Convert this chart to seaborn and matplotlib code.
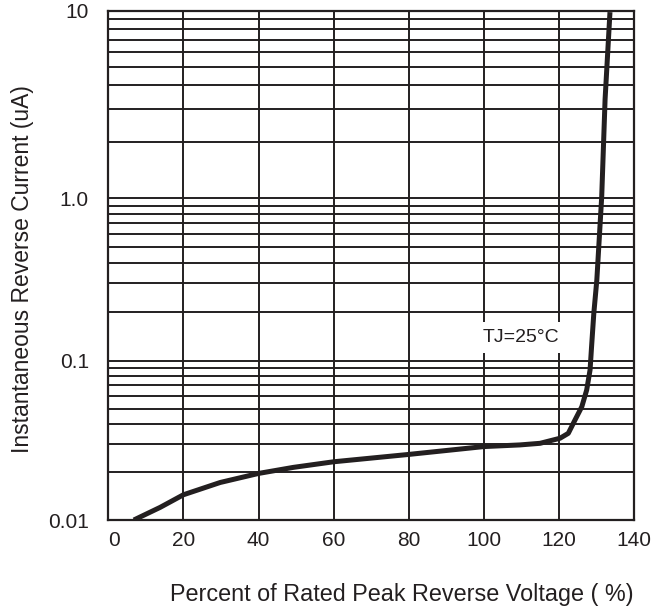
import numpy as np
import pandas as pd
import matplotlib
matplotlib.use("Agg")
import matplotlib.pyplot as plt
import matplotlib.ticker as mticker
import seaborn as sns

# ---- data ----
voltage_pct = [6.8, 13.8, 20, 29.8, 40, 49.3, 60, 80, 100, 109.6, 115, 120.3,
               122.5, 124.3, 126.1, 127.4, 128.3, 128.7, 129.3, 130.1, 131.4,
               132.3, 133.6]
current_ua = [0.0100, 0.0120, 0.0144, 0.0172, 0.0196, 0.0214, 0.0232, 0.0258,
              0.0289, 0.0296, 0.0303, 0.0326, 0.0350, 0.0425, 0.0514, 0.0655,
              0.0875, 0.122, 0.196, 0.314, 1.02, 3.37, 9.8]
x_ticks = [0, 20, 40, 60, 80, 100, 120, 140]
y_ticks = [0.01, 0.1, 1, 10]
y_tick_labels = ["0.01", "0.1", "1.0", "10"]
annotation = "TJ=25°C"

df = pd.DataFrame({"v": voltage_pct, "i": current_ua})

sns.set_style("white")
plt.rcParams["font.family"] = ["Liberation Sans", "DejaVu Sans"]

ink = "#231f20"

fig = plt.figure(figsize=(6.7, 6.08), dpi=100)
ax = fig.add_axes([108.3 / 670, 1 - 520 / 608, (634 - 108.3) / 670, (520 - 10.5) / 608])

# slightly uneven decades, as in the printed chart
_dec = [-2, -1, 0, 1]
_pos = [0.0, 159.3, 321.7, 509.5]


def fwd(y):
    y = np.asarray(y, dtype=float)
    ly = np.log10(np.clip(y, 1e-12, None))
    return np.interp(ly, _dec, _pos)


def inv(v):
    v = np.asarray(v, dtype=float)
    return 10 ** np.interp(v, _pos, _dec)


ax.set_yscale("function", functions=(fwd, inv))

sns.lineplot(data=df, x="v", y="i", ax=ax, color=ink, linewidth=3.6,
             estimator=None, sort=False, solid_capstyle="butt",
             solid_joinstyle="round", zorder=5)

ax.set_xlim(0, 140)
ax.set_ylim(0.01, 10)

ax.yaxis.set_major_locator(mticker.FixedLocator(y_ticks))
ax.yaxis.set_major_formatter(mticker.FixedFormatter(y_tick_labels))
ax.yaxis.set_minor_locator(mticker.LogLocator(base=10, subs=np.arange(2, 10)))
ax.yaxis.set_minor_formatter(mticker.NullFormatter())
ax.set_xticks(x_ticks)
ax.set_xticklabels([str(t) for t in x_ticks])

ax.grid(True, which="both", axis="y", color=ink, linewidth=1.4)
ax.grid(True, which="major", axis="x", color=ink, linewidth=1.4)
ax.set_axisbelow(True)
for s in ax.spines.values():
    s.set_visible(True)
    s.set_color(ink)
    s.set_linewidth(1.6)

ax.tick_params(axis="both", which="both", length=0, labelsize=15, colors=ink)
ax.tick_params(axis="y", pad=14)
ax.tick_params(axis="x", pad=8)
ax.get_xticklabels()[0].set_horizontalalignment("left")

ax.set_xlabel("")
ax.set_ylabel("")

ax.text(110, 0.138, annotation, ha="center", va="center", fontsize=14, color=ink,
        bbox=dict(facecolor="white", edgecolor="none", pad=5), zorder=4)

fig.text(23 / 670, 1 - 269 / 608, "Instantaneous Reverse Current (uA)", rotation=90,
         ha="center", va="center", fontsize=16.5, color=ink)
fig.text(402 / 670, 1 - 594 / 608, "Percent of Rated Peak Reverse Voltage ( %)",
         ha="center", va="center", fontsize=16.8, color=ink)

fig.savefig("out.png", dpi=100, facecolor="white")
